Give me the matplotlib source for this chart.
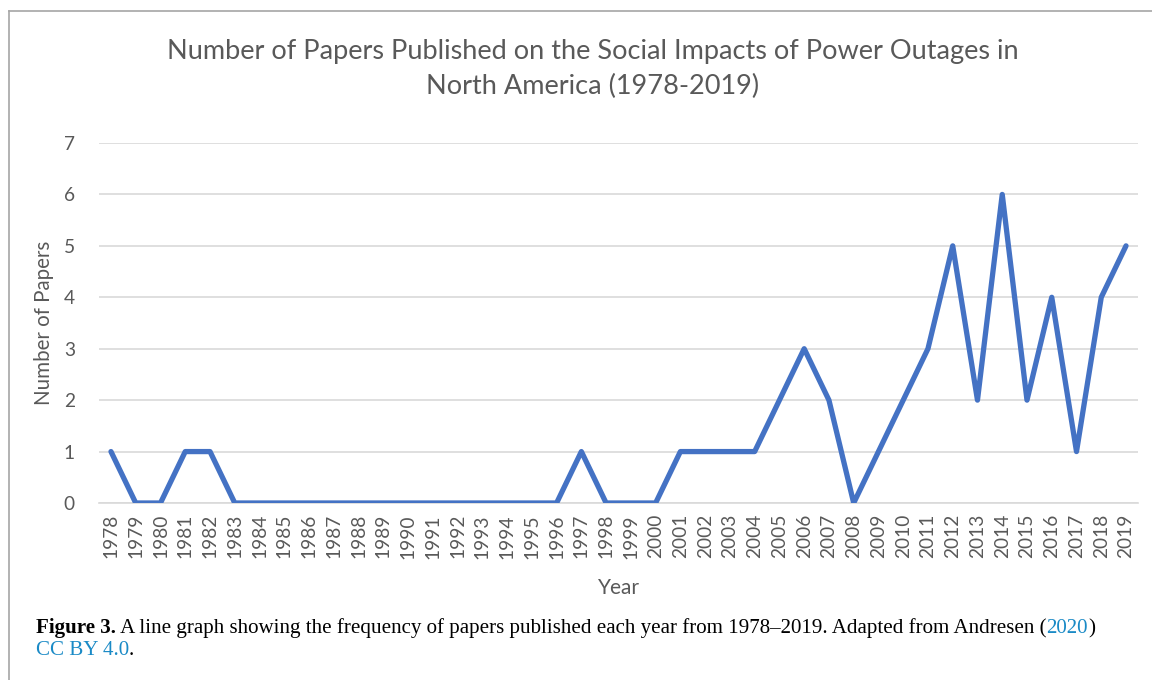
import matplotlib
matplotlib.use("Agg")
import matplotlib.pyplot as plt
from matplotlib.lines import Line2D

# Data
years = list(range(1978, 2020))
papers = [1, 0, 0, 1, 1, 0, 0, 0, 0, 0, 0, 0, 0, 0, 0, 0, 0, 0, 0, 1,
          0, 0, 0, 1, 1, 1, 1, 2, 3, 2, 0, 1, 2, 3, 5, 2, 6, 2, 4, 1, 4, 5]
y_ticks = [0, 1, 2, 3, 4, 5, 6, 7]

title = "Number of Papers Published on the Social Impacts of Power Outages in\nNorth America (1978-2019)"
caption_parts = [
    ("Figure 3.", "bold", "#000000"),
    (" A line graph showing the frequency of papers published each year from 1978\u20132019. Adapted from Andresen (", "normal", "#000000"),
    ("2020", "normal", "#1a8ac6"),
    (")", "normal", "#000000"),
]
caption_line2 = [("CC BY 4.0", "normal", "#1a8ac6"), (".", "normal", "#000000")]

W, H = 1152, 680
fig = plt.figure(figsize=(W / 100, H / 100), dpi=100)
ax = fig.add_axes([98.6 / W, 1 - 503 / H, (1138.4 - 98.6) / W, (503 - 143) / H])

x = list(range(len(years)))
ax.plot(x, papers, color="#4472c4", lw=3.8, solid_joinstyle="round", solid_capstyle="round", zorder=3)

ax.set_xlim(-0.5, len(years) - 0.5)
ax.set_ylim(0, 7)
ax.set_yticks(y_ticks)
ax.set_xticks(x)
ax.set_xticklabels([str(v) for v in years], rotation=90)
ax.grid(axis="y", color="#d9d9d9", lw=1.2)
ax.set_axisbelow(True)
for s in ax.spines.values():
    s.set_visible(False)
ax.spines["bottom"].set_visible(True)
ax.spines["bottom"].set_color("#d9d9d9")
ax.spines["bottom"].set_linewidth(1.2)
ax.tick_params(length=0, labelcolor="#595959", labelsize=13.8)
ax.tick_params(axis="y", pad=17)
ax.tick_params(axis="x", pad=8)
for lab in ax.get_xticklabels() + ax.get_yticklabels():
    lab.set_family("Lato")

ax.set_ylabel("Number of Papers", fontsize=14.8, color="#595959", family="Lato", labelpad=7)
ax.set_xlabel("Year", fontsize=15, color="#595959", family="Lato", labelpad=14)

fig.text(593 / W, 1 - 69 / H, title, ha="center", va="center", fontsize=19.5,
         color="#595959", family="Lato", linespacing=1.45)

# border of the figure frame (top and left only)
fig.add_artist(Line2D([9 / W, 1], [1 - 11 / H, 1 - 11 / H], transform=fig.transFigure, color="#a6a6a6", lw=1.2))
fig.add_artist(Line2D([9 / W, 9 / W], [0, 1 - 11 / H], transform=fig.transFigure, color="#a6a6a6", lw=1.2))

# caption, pieces placed one after another
fig.canvas.draw()
renderer = fig.canvas.get_renderer()


def put_line(parts, x0, y0):
    xp = x0
    for txt, weight, col in parts:
        t = fig.text(xp / W, 1 - y0 / H, txt, ha="left", va="baseline", fontsize=15.1,
                     family="Liberation Serif", weight=weight, color=col)
        bb = t.get_window_extent(renderer)
        xp = bb.x1


put_line(caption_parts, 36, 633)
put_line(caption_line2, 36, 655)

fig.savefig("out.png", dpi=100)
